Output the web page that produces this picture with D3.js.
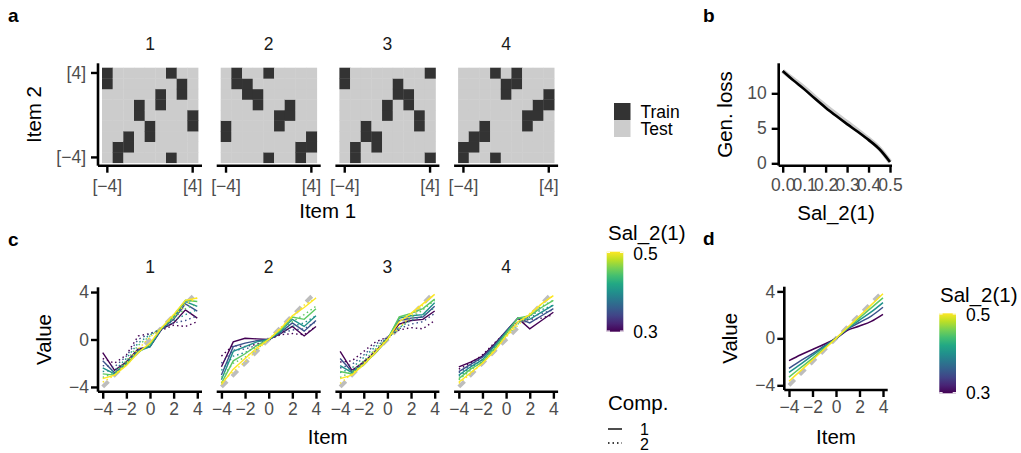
<!DOCTYPE html>
<html><head><meta charset="utf-8">
<script src="https://cdn.jsdelivr.net/npm/d3@7"></script>
<style>
body{margin:0;background:#fff}
svg{display:block;font-family:"Liberation Sans",Arial,sans-serif}
.tick text{fill:#4d4d4d;font-size:17.5px}
.tick line{stroke:#000;stroke-width:2.4}
.axisline{stroke:#000;stroke-width:2.6;fill:none}
</style></head><body>
<svg id="fig" width="1021" height="453"></svg>
<script>
// ---------- data ----------
const items = [-4, -3, -2, -1, 0, 1, 2, 3, 4];
const facets = ["1", "2", "3", "4"];
const salLevels = [0.3, 0.35, 0.4, 0.45, 0.5];

// panel a: training cells [item1, item2] per facet, the rest are test
const trainCells = [
  [[-4,4],[-4,3],[-3,-3],[-3,-4],[-2,-2],[-2,-3],[-1,1],[-1,0],[0,-1],[0,-2],[1,2],[1,1],[2,4],[2,-4],[3,3],[3,2],[4,0],[4,-1]],
  [[-3,4],[-3,3],[0,4],[-2,3],[-2,2],[-1,2],[-1,1],[2,1],[2,0],[1,0],[1,-1],[-4,-1],[-4,-2],[4,-2],[4,-3],[3,-3],[3,-4],[0,-4]],
  [[-4,4],[-4,3],[4,4],[1,3],[1,2],[2,2],[2,1],[0,1],[0,0],[3,0],[3,-1],[-2,-1],[-2,-2],[-1,-2],[-1,-3],[-3,-3],[-3,-4],[4,-4]],
  [[-1,4],[1,4],[1,3],[0,3],[0,2],[4,2],[4,1],[3,1],[3,0],[2,0],[2,-1],[-2,-1],[-2,-2],[-3,-2],[-3,-3],[-4,-3],[-4,-4],[-1,-4]]
];

// panel b
const salX = [0, 0.05, 0.1, 0.15, 0.2, 0.25, 0.3, 0.35, 0.4, 0.45, 0.5];
const trainLoss = [13.2, 11.85, 10.6, 9.25, 7.95, 6.75, 5.6, 4.5, 3.35, 2.05, 0.2];
const testLoss  = [13.2, 12.0, 10.8, 9.45, 8.2, 7.0, 5.85, 4.7, 3.5, 2.15, 0.2];

// panel c: value per item, one row per saliency level
const facet1Solid = [
  [-1.1,-2.6,-1.9,-0.8,-0.6,0.9,1.4,2.5,1.8],
  [-1.8,-2.8,-2.0,-0.9,-0.6,0.9,1.7,3.0,2.4],
  [-2.4,-2.9,-2.0,-1.0,-0.6,1.0,1.9,3.2,2.8],
  [-2.9,-3.0,-2.1,-1.1,-0.4,1.0,2.0,3.3,3.2],
  [-3.3,-3.0,-2.2,-1.1,-0.3,1.0,2.1,3.3,3.5]];
const facet1Dotted = [
  [-1.6,-2.0,-1.3,0.3,0.5,0.8,1.2,1.1,1.5],
  [-2.2,-2.3,-1.4,0.0,0.5,0.9,1.4,1.6,2.0],
  [-2.7,-2.6,-1.6,-0.3,0.4,0.9,1.6,2.1,2.5],
  [-3.2,-2.8,-1.8,-0.5,0.3,1.0,1.8,2.6,3.0],
  [-3.6,-3.0,-2.0,-0.8,0.2,1.0,1.9,3.0,3.5]];
const facet2Solid = [
  [-2.3,-0.2,0.1,0.05,0.0,0.5,1.1,0.3,1.1],
  [-3.0,-0.6,-0.3,-0.1,0.0,0.6,1.4,0.7,1.6],
  [-3.4,-1.0,-0.6,-0.2,0.0,0.7,1.7,1.1,2.0],
  [-3.7,-1.8,-1.2,-0.5,0.0,0.8,1.9,1.7,2.6],
  [-3.8,-2.5,-1.6,-0.7,0.0,0.9,2.0,2.7,3.5]];
const facet2Dotted = [
  [-1.4,-0.5,-0.6,-0.4,0.0,0.4,0.5,0.4,1.1],
  [-2.0,-0.9,-0.8,-0.5,0.0,0.5,0.8,0.9,1.5],
  [-2.6,-1.4,-1.1,-0.6,0.0,0.6,1.1,1.4,2.0],
  [-3.2,-2.0,-1.5,-0.8,0.0,0.8,1.5,2.1,2.8],
  [-3.6,-2.7,-1.9,-0.9,0.0,1.0,1.9,2.9,3.5]];
const facet3Solid = [
  [-1.0,-2.6,-1.9,-1.0,0.1,1.3,1.6,1.7,2.4],
  [-1.6,-2.7,-2.0,-1.1,0.0,1.6,1.8,1.9,2.8],
  [-2.2,-2.8,-2.1,-1.1,0.0,1.8,2.0,2.1,3.1],
  [-2.7,-2.9,-2.1,-1.1,0.0,1.9,2.2,2.6,3.4],
  [-3.3,-3.0,-2.1,-1.1,0.0,1.5,2.2,3.0,3.8]];
const facet3Dotted = [
  [-1.9,-1.8,-1.0,-0.2,0.2,0.8,1.0,0.9,1.6],
  [-2.4,-2.1,-1.3,-0.4,0.2,0.9,1.3,1.5,2.2],
  [-2.8,-2.4,-1.5,-0.6,0.1,1.0,1.6,2.0,2.7],
  [-3.2,-2.7,-1.8,-0.8,0.1,1.0,1.8,2.5,3.3],
  [-3.7,-2.9,-2.0,-0.9,0.0,1.0,2.0,2.9,3.8]];
const facet4Solid = [
  [-2.3,-1.9,-1.4,-0.4,0.7,1.8,0.9,1.6,2.3],
  [-2.7,-2.1,-1.5,-0.5,0.7,1.8,1.4,2.0,2.6],
  [-3.0,-2.3,-1.7,-0.6,0.6,1.8,1.7,2.3,2.9],
  [-3.3,-2.5,-1.9,-0.8,0.5,1.8,2.0,2.7,3.3],
  [-3.6,-2.8,-2.0,-1.0,0.3,1.5,2.1,3.0,3.7]];
const facet4Dotted = [
  [-2.5,-2.0,-1.3,-0.3,0.6,1.5,1.7,1.8,2.1],
  [-2.8,-2.2,-1.5,-0.5,0.5,1.5,1.9,2.2,2.5],
  [-3.1,-2.4,-1.7,-0.7,0.4,1.4,2.0,2.5,2.9],
  [-3.4,-2.6,-1.8,-0.8,0.3,1.3,2.1,2.8,3.3],
  [-3.7,-2.9,-2.0,-0.9,0.2,1.2,2.2,3.0,3.7]];
const trueValue = [-4, -3, -2, -1, 0, 1, 2, 3, 4];

// panel d: averaged fit per saliency level
const dValues = [
  [-1.9,-1.4,-0.95,-0.5,0,0.7,1.05,1.45,2.05],
  [-2.55,-1.9,-1.3,-0.65,0,0.8,1.35,1.9,2.65],
  [-2.9,-2.2,-1.45,-0.72,0,0.85,1.55,2.25,3.05],
  [-3.3,-2.5,-1.7,-0.85,0,0.9,1.75,2.6,3.45],
  [-3.65,-2.75,-1.85,-0.93,0,0.95,1.9,2.85,3.8]];

// ---------- helpers ----------
const svg = d3.select("#fig");
const TITLE = 20.5, SMALL = 17.5, TAG = 19;
const color = d3.scaleSequential(d3.interpolateViridis).domain([0.3, 0.5]);
const minus = d3.format("d");

function text(x, y, s, o = {}) {
  const t = svg.append("text").attr("x", x).attr("y", y).attr("dy", "0.35em")
    .attr("text-anchor", o.anchor || "middle")
    .attr("font-size", o.size || TITLE)
    .attr("fill", o.fill || "#000").text(s);
  if (o.rot) t.attr("transform", `rotate(-90,${x},${y})`);
  if (o.bold) t.attr("font-weight", "bold");
  return t;
}

function hline(x0, x1, y) {
  svg.append("line").attr("class", "axisline").attr("x1", x0).attr("x2", x1).attr("y1", y).attr("y2", y);
}
function vline(x, y0, y1) {
  svg.append("line").attr("class", "axisline").attr("x1", x).attr("x2", x).attr("y1", y0).attr("y2", y1);
}
function xAxis(scale, y, ticks, fmt, pad) {
  svg.append("g").attr("transform", `translate(0,${y})`)
    .call(d3.axisBottom(scale).tickValues(ticks).tickFormat(fmt).tickSize(7).tickPadding(pad))
    .call(g => g.select(".domain").remove());
}
function yAxis(scale, x, ticks, fmt, pad) {
  svg.append("g").attr("transform", `translate(${x},0)`)
    .call(d3.axisLeft(scale).tickValues(ticks).tickFormat(fmt).tickSize(7).tickPadding(pad))
    .call(g => g.select(".domain").remove());
}

const facetX0 = [98, 216.7, 335.4, 454.1];
const FW = 104;

// ---------- panel a ----------
text(8, 15, "a", {anchor: "start", bold: true, size: TAG});
const aTop = 63.3, aBot = 165.7;
facets.forEach((f, i) => {
  const x0 = facetX0[i];
  const x = d3.scaleBand().domain(items).range([x0 + 4, x0 + FW - 4]);
  const y = d3.scaleBand().domain(items.slice().reverse()).range([aTop + 4.4, aBot - 3]);
  const train = new Set(trainCells[i].map(d => d.join(",")));
  const cells = items.flatMap(a => items.map(b => [a, b]));
  svg.append("g").selectAll("rect").data(cells).join("rect")
    .attr("x", d => x(d[0])).attr("y", d => y(d[1]))
    .attr("width", x.bandwidth() + 0.4).attr("height", y.bandwidth() + 0.4)
    .attr("fill", d => train.has(d.join(",")) ? "#333333" : "#cccccc");
  text(x0 + FW / 2, 44, f, {size: SMALL, fill: "#1a1a1a"});
  xAxis(x, aBot, [-4, 4], d => `[${minus(d)}]`, 7);
  hline(x0, x0 + FW, aBot);
  if (i === 0) {
    yAxis(y, x0, [4, -4], d => `[${minus(d)}]`, 5);
    vline(x0, aTop, aBot);
  }
});
text(327.7, 211, "Item 1");
text(34, 114.5, "Item 2", {rot: true});

// legend Train/Test
svg.append("rect").attr("x", 614).attr("y", 103).attr("width", 16.5).attr("height", 17).attr("fill", "#333333");
svg.append("rect").attr("x", 614).attr("y", 120).attr("width", 16.5).attr("height", 17).attr("fill", "#cccccc");
text(640.5, 111.7, "Train", {anchor: "start", size: SMALL});
text(640.5, 129, "Test", {anchor: "start", size: SMALL});

// ---------- panel b ----------
text(703, 15, "b", {anchor: "start", bold: true, size: TAG});
const bx = d3.scaleLinear().domain([-0.0219, 0.5186]).range([778, 894]);
const by = d3.scaleLinear().domain([-0.34, 14.29]).range([aBot, aTop]);
const lossLine = arr => d3.line().curve(d3.curveCatmullRom)
  .x((d, i) => bx(salX[i])).y(d => by(d))(arr);
svg.append("path").attr("d", lossLine(testLoss)).attr("fill", "none")
  .attr("stroke", "#cccccc").attr("stroke-width", 4.5);
svg.append("path").attr("d", lossLine(trainLoss)).attr("fill", "none")
  .attr("stroke", "#000").attr("stroke-width", 2.6);
xAxis(bx, aBot, [0, 0.1, 0.2, 0.3, 0.4, 0.5], d3.format(".1f"), 6);
yAxis(by, 778.7, [0, 5, 10], d3.format("d"), 5);
hline(778.7, 892, aBot);
vline(778.7, aTop, aBot);
text(836, 213, "Sal_2(1)");
text(725, 114.5, "Gen. loss", {rot: true});

// ---------- panel c ----------
text(8, 239, "c", {anchor: "start", bold: true, size: TAG});
const cTop = 287.3, cBot = 391.7;
const cy = d3.scaleLinear().domain([-4.4, 4.4]).range([cBot, cTop]);
const facetData = [
  [facet1Solid, facet1Dotted], [facet2Solid, facet2Dotted],
  [facet3Solid, facet3Dotted], [facet4Solid, facet4Dotted]];
facets.forEach((f, i) => {
  const x0 = facetX0[i];
  const cx = d3.scaleLinear().domain([-4.4, 4.4]).range([x0, x0 + FW]);
  const line = d3.line().x((d, j) => cx(items[j])).y(d => cy(d));
  svg.append("path").attr("d", line(trueValue)).attr("fill", "none")
    .attr("stroke", "#bdbdbd").attr("stroke-width", 4).attr("stroke-dasharray", "8,7");
  const [solid, dotted] = facetData[i];
  salLevels.forEach((s, k) => {
    svg.append("path").attr("d", line(solid[k])).attr("fill", "none")
      .attr("stroke", color(s)).attr("stroke-width", 1.4);
    svg.append("path").attr("d", line(dotted[k])).attr("fill", "none")
      .attr("stroke", color(s)).attr("stroke-width", 1.4).attr("stroke-dasharray", "1.5,3");
  });
  text(x0 + FW / 2, 266.7, f, {size: SMALL, fill: "#1a1a1a"});
  xAxis(cx, cBot, [-4, -2, 0, 2, 4], minus, 4);
  hline(x0, x0 + FW, cBot);
  if (i === 0) {
    yAxis(cy, x0, [-4, 0, 4], minus, 2);
    vline(x0, cTop, cBot);
  }
});
text(327.7, 437, "Item");
text(44, 339.5, "Value", {rot: true});

// colour bar legends
function colorbar(id, x, y, w, h, tx, ty) {
  const grad = svg.append("defs").append("linearGradient").attr("id", id)
    .attr("x1", 0).attr("y1", 1).attr("x2", 0).attr("y2", 0);
  d3.range(0, 1.0001, 0.1).forEach(t => grad.append("stop")
    .attr("offset", t).attr("stop-color", d3.interpolateViridis(t)));
  text(tx, ty, "Sal_2(1)", {anchor: "start"});
  svg.append("rect").attr("x", x).attr("y", y).attr("width", w).attr("height", h)
    .attr("fill", `url(#${id})`);
  [y + 0.6, y + h - 0.6].forEach(yy => {
    svg.append("line").attr("x1", x).attr("x2", x + 3.3).attr("y1", yy).attr("y2", yy)
      .attr("stroke", "#fff").attr("stroke-width", 1.2);
    svg.append("line").attr("x1", x + w - 3.3).attr("x2", x + w).attr("y1", yy).attr("y2", yy)
      .attr("stroke", "#fff").attr("stroke-width", 1.2);
  });
  text(x + w + 10, y + 2, "0.5", {anchor: "start", size: SMALL});
  text(x + w + 10, y + h, "0.3", {anchor: "start", size: SMALL});
}
colorbar("gc", 606.7, 251.7, 16.6, 80, 608, 233);

// comp legend
text(608, 403, "Comp.", {anchor: "start"});
svg.append("line").attr("x1", 608).attr("x2", 622).attr("y1", 429).attr("y2", 429)
  .attr("stroke", "#000").attr("stroke-width", 1.4);
svg.append("line").attr("x1", 608).attr("x2", 622).attr("y1", 443).attr("y2", 443)
  .attr("stroke", "#000").attr("stroke-width", 1.4).attr("stroke-dasharray", "1.5,3");
text(640, 429.5, "1", {anchor: "start", size: 16});
text(640, 444.5, "2", {anchor: "start", size: 16});

// ---------- panel d ----------
text(703, 238, "d", {anchor: "start", bold: true, size: TAG});
const dL = 784.3, dR = 887.7, dTop = 286.7, dBot = 390;
const dx = d3.scaleLinear().domain([-4.4, 4.4]).range([dL, dR]);
const dy = d3.scaleLinear().domain([-4.4, 4.4]).range([dBot, dTop]);
const dLine = d3.line().curve(d3.curveMonotoneX).x((d, j) => dx(items[j])).y(d => dy(d));
svg.append("path").attr("d", dLine(trueValue)).attr("fill", "none")
  .attr("stroke", "#bdbdbd").attr("stroke-width", 4).attr("stroke-dasharray", "8,7");
salLevels.forEach((s, k) => {
  svg.append("path").attr("d", dLine(dValues[k])).attr("fill", "none")
    .attr("stroke", color(s)).attr("stroke-width", 1.5);
});
xAxis(dx, dBot, [-4, -2, 0, 2, 4], minus, 4);
yAxis(dy, dL, [-4, 0, 4], minus, 2);
hline(dL, dR, dBot);
vline(dL, dTop, dBot);
text(836, 437, "Item");
text(730, 338.3, "Value", {rot: true});
colorbar("gd", 939.3, 313.3, 16.7, 80, 940, 295);
</script>
</body></html>
